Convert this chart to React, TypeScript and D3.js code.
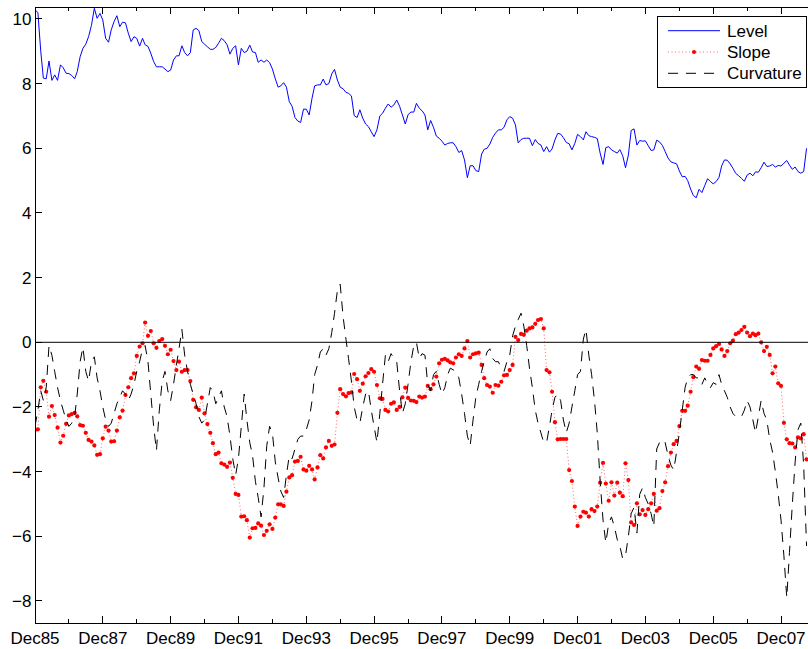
import React, { useEffect, useRef } from 'react'
import * as d3 from 'd3'

// monthly factors, first value is Dec 1985
const level = [
  10.28, 10.2, 9.0, 8.17, 8.15, 8.7, 8.1, 8.27, 8.1, 8.58, 8.49, 8.32,
  8.31, 8.25, 8.15, 8.37, 8.83, 9.09, 9.22, 9.45, 9.8, 10.33, 10.02, 10.17,
  9.97, 9.4, 9.28, 9.66, 9.92, 10.1, 9.76, 9.9, 9.88, 9.56, 9.3, 9.45,
  9.4, 9.16, 9.4, 9.2, 9.15, 8.94, 8.68, 8.52, 8.52, 8.52, 8.45, 8.37,
  8.42, 8.73, 8.86, 8.86, 9.17, 8.96, 8.86, 8.96, 9.66, 9.71, 9.64, 9.3,
  9.22, 9.14, 9.06, 9.06, 9.12, 9.25, 9.4, 9.33, 9.2, 8.91, 9.09, 9.17,
  8.58, 9.09, 8.96, 9.0, 9.19, 8.98, 8.96, 8.66, 8.73, 8.66, 8.73, 8.65,
  8.45, 8.15, 7.89, 7.93, 8.03, 7.89, 7.44, 7.3, 6.95, 6.84, 6.8, 7.21,
  7.21, 7.03, 7.55, 7.93, 7.96, 7.96, 8.14, 7.96, 8.0, 8.3, 8.44, 8.11,
  7.89, 7.84, 7.73, 7.7, 7.62, 7.01, 6.95, 7.19, 6.93, 6.75, 6.67, 6.51,
  6.36, 6.57, 7.0, 7.08, 7.24, 7.37, 7.27, 7.34, 7.49, 7.3, 7.03, 6.75,
  7.04, 7.12, 7.12, 7.39, 7.24, 7.16, 7.03, 6.57, 6.86, 6.65, 6.38, 6.31,
  6.22, 6.1, 6.15, 6.17, 6.17, 6.05, 5.87, 5.93, 5.64, 5.09, 5.46, 5.46,
  5.31, 5.28, 5.82, 5.97, 6.0, 6.13, 6.34, 6.47, 6.57, 6.57, 6.65, 6.88,
  6.98, 6.93, 6.72, 6.17, 6.27, 6.31, 6.31, 6.31, 6.08, 6.27, 6.15, 6.1,
  5.9, 6.05, 5.88, 5.98, 6.26, 6.46, 6.44, 6.33, 6.18, 6.14, 5.95, 6.15,
  6.43, 6.36, 6.26, 6.51, 6.39, 6.36, 6.34, 6.3, 5.85, 5.5, 6.02, 6.05,
  5.95, 5.9, 5.85, 5.96, 5.77, 5.4, 5.79, 6.55, 6.6, 6.1, 6.24, 6.22,
  6.23, 6.08, 5.93, 5.95, 6.25, 6.2, 6.09, 5.9, 5.7, 5.58, 5.55, 5.52,
  5.3, 5.12, 5.13, 5.0, 4.74, 4.54, 4.47, 4.73, 4.63, 4.85, 5.06, 4.97,
  4.9, 4.97, 5.1, 5.45, 5.64, 5.63, 5.52, 5.38, 5.22, 5.15, 5.07, 4.98,
  5.17, 5.23, 5.15, 5.27, 5.26, 5.4, 5.57, 5.44, 5.45, 5.5, 5.42, 5.47,
  5.45, 5.54, 5.62, 5.48, 5.35, 5.42, 5.28, 5.23, 5.28, 6.0
]

const slope = [
  -2.71, -2.69, -1.39, -1.19, -1.53, -2.3, -1.97, -2.25, -2.64, -3.1, -2.89, -2.52,
  -2.26, -2.22, -2.18, -2.29, -2.56, -2.58, -2.8, -3.02, -3.07, -3.19, -3.48, -3.46,
  -2.97, -2.61, -2.73, -3.07, -3.06, -2.73, -2.32, -2.11, -1.63, -1.39, -1.11, -0.96,
  -0.42, -0.13, -0.03, 0.61, 0.2, 0.35, -0.03, -0.17, 0.04, 0.1, -0.11, -0.37,
  -0.23, -0.58, -0.86, -0.6, -0.91, -0.86, -0.86, -1.2, -1.78, -2.01, -2.09, -1.71,
  -2.2, -2.53, -2.8, -3.12, -3.46, -3.41, -3.74, -3.78, -3.85, -3.72, -4.19, -4.69,
  -4.72, -5.39, -5.38, -5.5, -6.04, -5.75, -5.74, -5.6, -5.67, -5.96, -5.83, -5.63,
  -5.77, -5.42, -5.01, -5.01, -5.06, -4.62, -4.18, -4.11, -3.69, -3.67, -3.54, -3.93,
  -3.97, -3.82, -3.93, -4.24, -3.87, -3.49, -3.59, -3.25, -3.05, -3.2, -3.16, -2.18,
  -1.45, -1.6, -1.67, -1.57, -1.55, -0.98, -1.14, -1.5, -1.28, -1.05, -0.95, -0.83,
  -0.91, -1.32, -1.73, -1.75, -2.09, -2.14, -1.9, -1.86, -2.09, -2.0, -1.7, -1.4,
  -1.72, -1.8, -1.81, -1.85, -1.68, -1.71, -1.68, -1.35, -1.45, -1.3, -1.06, -0.65,
  -0.54, -0.51, -0.56, -0.62, -0.65, -0.47, -0.37, -0.42, -0.19, 0.04, -0.47, -0.37,
  -0.34, -0.32, -0.7, -1.11, -1.32, -1.37, -1.56, -1.32, -1.34, -1.22, -1.02, -1.01,
  -0.86, -0.7, 0.17, 0.07, 0.26, 0.23, 0.36, 0.43, 0.46, 0.57, 0.69, 0.72,
  0.43, -0.86, -0.93, -1.53, -2.47, -3.0, -2.99, -2.99, -2.99, -3.95, -4.29, -5.08,
  -5.68, -5.39, -5.24, -5.27, -5.39, -5.16, -5.22, -5.08, -4.34, -3.73, -4.37, -4.9,
  -4.33, -4.74, -4.34, -4.65, -4.76, -3.74, -4.26, -5.57, -5.65, -4.98, -5.32, -5.19,
  -5.34, -5.16, -4.98, -4.69, -5.21, -5.13, -4.6, -4.33, -3.83, -3.41, -3.15, -3.05,
  -2.59, -2.12, -2.12, -1.96, -1.53, -1.08, -0.75, -0.82, -0.55, -0.57, -0.57, -0.39,
  -0.19, -0.12, -0.05, -0.22, -0.42, -0.27, -0.03, 0.05, 0.25, 0.3, 0.38, 0.48,
  0.3, 0.19, 0.27, 0.22, 0.27, 0.0, -0.27, -0.14, -0.39, -0.96, -0.75, -1.27,
  -1.35, -2.49, -3.0, -3.12, -3.13, -3.25, -2.94, -2.97, -2.84, -3.62
]

const curvature = [
  -2.6, -2.1, -1.5, -1.8, -1.4, -0.1, -0.4, -0.9, -1.4, -1.8, -2.1, -2.4,
  -2.6, -2.5, -2.3, -1.6, -0.6, -0.15, -0.9, -1.2, -0.6, -0.45, -1.1, -1.5,
  -2.0, -2.4, -2.6, -2.5, -2.2, -1.9, -1.7, -1.5, -1.6, -1.8, -1.6, -1.3,
  -0.9, -0.6, -0.2, -0.1, -0.6, -1.6, -2.6, -3.35, -2.1, -1.2, -0.9, -1.5,
  -1.8, -1.3, -0.7, -0.2, 0.4, -0.4, -0.9, -1.3, -1.6, -1.9, -2.3, -2.5,
  -2.4, -1.9, -1.4, -1.5, -1.9, -1.7, -1.5, -2.0, -2.3, -2.9, -3.6, -4.1,
  -3.6, -2.6, -1.6, -2.4, -3.1, -3.5, -4.3, -4.8, -5.4, -4.5, -3.2, -2.6,
  -2.8, -3.7, -4.2, -4.6, -4.8, -4.1, -3.5, -3.6, -3.3, -3.0, -2.9, -2.9,
  -2.7, -2.4, -1.8, -1.0, -0.7, -0.3, -0.2, -0.4, -0.2, 0.3, 0.9, 1.6,
  1.8, 0.8, 0.1, -0.5, -1.2, -2.0, -2.4, -2.5, -2.0, -1.6, -1.5, -2.1,
  -2.6, -3.1, -2.2, -1.3, -0.4, -0.6, -0.35, -0.5, -0.6, -1.5, -2.2, -1.9,
  -1.3, -0.6, -0.1, 0.0, -0.5, -0.35, -0.4, -1.3, -1.5, -1.0, -0.9, -1.3,
  -1.6, -1.4, -1.0, -0.8, -0.85, -0.9, -1.1, -1.6, -2.2, -2.9, -3.2, -2.4,
  -1.7, -1.3, -0.9, -0.6, -0.3, -0.2, -0.5, -0.6, -0.6, -0.8, -0.9, -0.6,
  -0.4, 0.2, 0.5, 0.7, 0.9, 0.5, -0.1, -0.8, -1.4, -2.1, -2.5, -2.8,
  -3.1, -3.1, -2.6, -2.1, -1.7, -1.6, -1.8, -2.4, -2.8, -2.5, -2.0, -1.5,
  -1.0, -0.9, 0.1, 0.4, -0.4, -1.0, -1.8, -2.8, -4.3, -5.5, -6.2, -5.6,
  -5.4, -5.7, -6.1, -6.3, -6.7, -6.6, -6.0, -5.3, -5.1, -5.9, -4.7, -4.5,
  -4.8, -5.0, -5.3, -5.7, -3.3, -3.1, -3.2, -3.1, -3.5, -3.8, -3.95, -3.4,
  -2.8, -2.1, -1.4, -1.1, -1.0, -1.0, -1.1, -1.1, -1.3, -1.1, -1.3, -1.4,
  -1.25, -1.3, -1.0, -1.3, -1.5, -1.7, -2.0, -2.2, -2.3, -2.3, -2.3, -2.1,
  -1.8, -2.0, -2.4, -2.8, -2.3, -1.8, -2.2, -2.4, -3.0, -3.4, -4.0, -4.7,
  -5.5, -6.6, -7.9, -6.5, -5.0, -3.7, -2.7, -2.5, -3.8, -6.3
]

const yTicks = [-8, -6, -4, -2, 0, 2, 4, 6, 8, 10]
const legendLabels = ['Level', 'Slope', 'Curvature']

const monthDate = (i: number) => new Date(Date.UTC(1985, 11 + i, 1))

function FactorChart() {
  const ref = useRef<SVGSVGElement>(null)

  useEffect(() => {
    const w = 808
    const h = 649
    const left = 35, right = 815, top = 7.3, bottom = 623.3
    const font = 'Liberation Sans, Arial, Helvetica, sans-serif'

    const svg = d3.select(ref.current)
    svg.selectAll('*').remove()
    svg.attr('width', w).attr('height', h)

    const x = d3.scaleUtc().domain([monthDate(0), monthDate(276)]).range([left, right])
    const y = d3.scaleLinear().domain([-8.69, 10.36]).range([bottom, top])

    svg.append('rect').attr('width', w).attr('height', h).attr('fill', '#fff')

    svg.append('clipPath').attr('id', 'plot-clip')
      .append('rect')
      .attr('x', left).attr('y', top)
      .attr('width', right - left).attr('height', bottom - top)

    const plot = svg.append('g').attr('clip-path', 'url(#plot-clip)')

    const line = d3.line<number>()
      .x((_, i) => x(monthDate(i)))
      .y(d => y(d))

    // LEVEL
    plot.append('path')
      .attr('d', line(level))
      .attr('fill', 'none')
      .attr('stroke', '#0000ff')
      .attr('stroke-width', 1)

    // SLOPE, dotted line with point markers
    plot.append('path')
      .attr('d', line(slope))
      .attr('fill', 'none')
      .attr('stroke', '#ff0000')
      .attr('stroke-width', 0.6)
      .attr('stroke-dasharray', '1,2.5')

    plot.append('g')
      .selectAll('circle')
      .data(slope)
      .join('circle')
      .attr('cx', (_, i) => x(monthDate(i)))
      .attr('cy', d => y(d))
      .attr('r', 2.1)
      .attr('fill', '#ff0000')

    // CURVATURE
    plot.append('path')
      .attr('d', line(curvature))
      .attr('fill', 'none')
      .attr('stroke', '#000')
      .attr('stroke-width', 1)
      .attr('stroke-dasharray', '10,8')

    // zero line
    plot.append('line')
      .attr('x1', left).attr('x2', right)
      .attr('y1', y(0)).attr('y2', y(0))
      .attr('stroke', '#000')
      .attr('stroke-width', 1)

    // AXES box
    const axes = svg.append('g')
      .attr('stroke', '#000')
      .attr('stroke-width', 1)
      .attr('shape-rendering', 'crispEdges')

    axes.append('rect')
      .attr('x', left).attr('y', top)
      .attr('width', right - left).attr('height', bottom - top)
      .attr('fill', 'none')

    // yearly x ticks, every other one labelled
    const years = d3.range(0, 24).map(k => monthDate(12 * k))
    const fmt = d3.utcFormat('%b%y')
    years.forEach((d, k) => {
      const len = k % 2 === 0 ? 7 : 4
      const xp = x(d)
      axes.append('line').attr('x1', xp).attr('x2', xp).attr('y1', bottom).attr('y2', bottom - len)
      axes.append('line').attr('x1', xp).attr('x2', xp).attr('y1', top).attr('y2', top + len)
    })

    svg.append('g')
      .selectAll('text')
      .data(years.filter((_, k) => k % 2 === 0))
      .join('text')
      .attr('x', d => x(d))
      .attr('y', 644)
      .attr('text-anchor', 'middle')
      .attr('font-family', font)
      .attr('font-size', 17)
      .attr('fill', '#000')
      .text(d => fmt(d))

    yTicks.forEach(t => {
      axes.append('line').attr('x1', left).attr('x2', left + 7).attr('y1', y(t)).attr('y2', y(t))
      axes.append('line').attr('x1', right).attr('x2', right - 7).attr('y1', y(t)).attr('y2', y(t))
    })

    svg.append('g')
      .selectAll('text')
      .data(yTicks)
      .join('text')
      .attr('x', 31.5)
      .attr('y', d => y(d))
      .attr('dy', '0.35em')
      .attr('text-anchor', 'end')
      .attr('font-family', font)
      .attr('font-size', 17)
      .attr('fill', '#000')
      .text(d => (d < 0 ? '\u2212' + Math.abs(d) : String(d)))

    // LEGEND
    const lg = svg.append('g')
    lg.append('rect')
      .attr('x', 657).attr('y', 16)
      .attr('width', 149).attr('height', 71)
      .attr('fill', '#fff')
      .attr('stroke', '#000')
      .attr('shape-rendering', 'crispEdges')

    const rowY = (i: number) => 30.7 + i * 21.3
    const styles = [
      { stroke: '#0000ff', dash: null, width: 1 },
      { stroke: '#ff0000', dash: '1,2.5', width: 0.6 },
      { stroke: '#000', dash: '10,8', width: 1 }
    ]
    legendLabels.forEach((label, i) => {
      const s = styles[i]
      lg.append('line')
        .attr('x1', 668).attr('x2', 720)
        .attr('y1', rowY(i)).attr('y2', rowY(i))
        .attr('stroke', s.stroke)
        .attr('stroke-width', s.width)
        .attr('stroke-dasharray', s.dash)
      if (label === 'Slope') {
        lg.append('circle').attr('cx', 694).attr('cy', rowY(i)).attr('r', 2.1).attr('fill', '#ff0000')
      }
      lg.append('text')
        .attr('x', 727)
        .attr('y', rowY(i))
        .attr('dy', '0.35em')
        .attr('font-family', font)
        .attr('font-size', 17)
        .attr('fill', '#000')
        .text(label)
    })
  }, [])

  return (
    <svg ref={ref} style={{ position: 'absolute', left: 0, top: 0, display: 'block' }}></svg>
  )
}

export default function App() {
  return <FactorChart />
}
